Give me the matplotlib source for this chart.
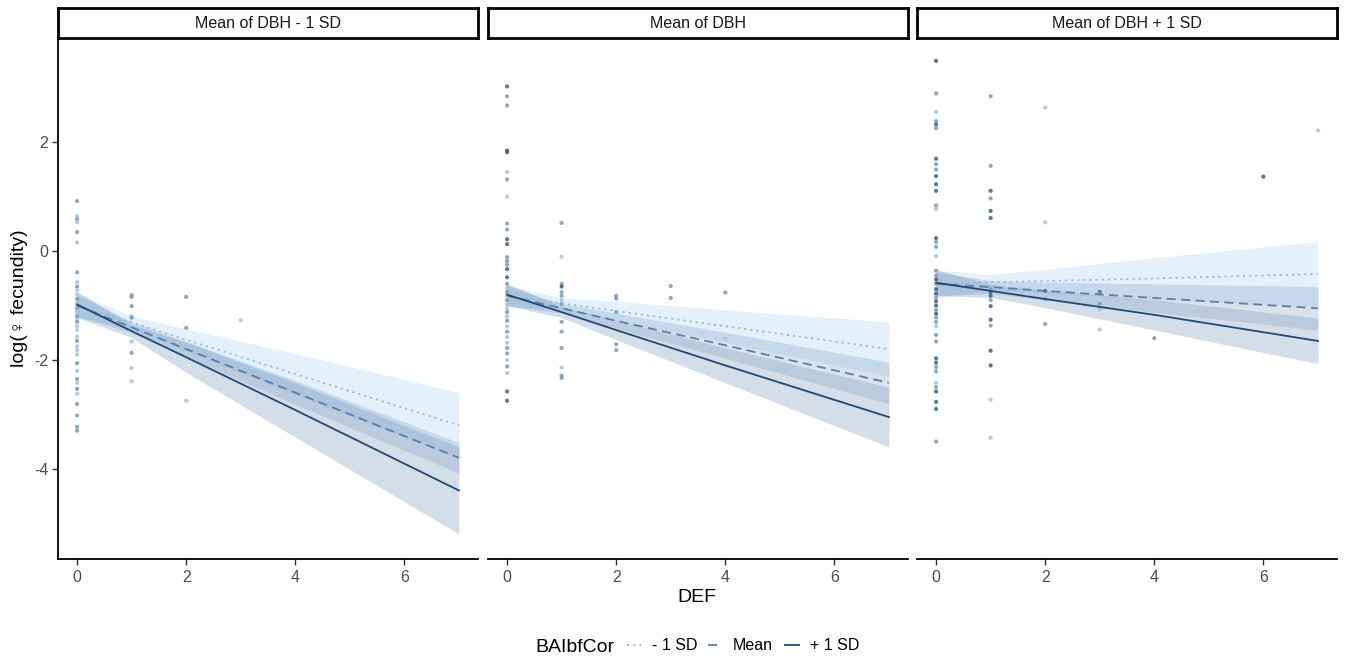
import matplotlib
matplotlib.use("Agg")
import matplotlib.pyplot as plt
import numpy as np
from matplotlib.lines import Line2D

plt.rcParams['font.family'] = ['Liberation Sans', 'DejaVu Sans']

# ---------------- data ----------------
panel_titles = ["Mean of DBH - 1 SD", "Mean of DBH", "Mean of DBH + 1 SD"]
group_labels = ["- 1 SD", "Mean", "+ 1 SD"]
legend_title = "BAIbfCor"
x_label = "DEF"
y_label = "log(\u2640 fecundity)"
x_ticks = [0, 2, 4, 6]
y_ticks = [-4, -2, 0, 2]

# fitted lines evaluated at DEF grid
def_grid = [0, 1, 2, 4, 7]
# per panel, per group: fitted values at def_grid
fit_p1 = [[-1.00, -1.31, -1.63, -2.26, -3.20],
          [-1.00, -1.40, -1.80, -2.60, -3.80],
          [-0.98, -1.47, -1.95, -2.92, -4.40]]
fit_p2 = [[-0.82, -0.96, -1.10, -1.38, -1.80],
          [-0.82, -1.05, -1.28, -1.73, -2.42],
          [-0.80, -1.12, -1.45, -2.10, -3.05]]
fit_p3 = [[-0.60, -0.57, -0.55, -0.50, -0.42],
          [-0.60, -0.66, -0.73, -0.86, -1.05],
          [-0.58, -0.73, -0.88, -1.17, -1.65]]
# CI half widths at def_grid
hw_p1 = [[0.22, 0.12, 0.20, 0.38, 0.60],
         [0.20, 0.10, 0.14, 0.22, 0.28],
         [0.24, 0.12, 0.28, 0.50, 0.80]]
hw_p2 = [[0.20, 0.10, 0.18, 0.30, 0.50],
         [0.18, 0.09, 0.14, 0.24, 0.38],
         [0.20, 0.10, 0.18, 0.32, 0.55]]
hw_p3 = [[0.25, 0.14, 0.22, 0.38, 0.60],
         [0.22, 0.12, 0.16, 0.26, 0.40],
         [0.24, 0.12, 0.16, 0.28, 0.42]]

# observed points
pts_p1_x = [0]*37 + [1]*9 + [2]*3 + [3]
pts_p1_y = [0.92, 0.65, 0.59, 0.53, 0.35, 0.16, -0.39, -0.57, -0.65, -0.72, -0.8, -0.88, -0.95,
            -1.0, -1.05, -1.1, -1.15, -1.2, -1.25, -1.3, -1.38, -1.45, -1.57, -1.65, -1.75, -1.82,
            -1.9, -2.06, -2.2, -2.35, -2.42, -2.53, -2.62, -2.81, -3.02, -3.23, -3.3,
            -0.81, -0.84, -1.01, -1.2, -1.22, -1.66, -1.87, -2.15, -2.39,
            -0.84, -1.41, -2.75,
            -1.27]
pts_p1_g = [1, 0, 1, 0, 1, 0, 1, 0, 1, 0, 0, 1, 0,
            0, 1, 0, 0, 1, 0, 1, 0, 0, 0, 1, 0, 0,
            0, 1, 0, 1, 0, 1, 0, 1, 1, 1, 1,
            1, 1, 1, 0, 1, 0, 1, 0, 0,
            1, 1, 0,
            0]

pts_p2_x = [0]*38 + [1]*14 + [2]*5 + [3]*2 + [4]*2
pts_p2_y = [3.03, 2.85, 2.68, 1.85, 1.82, 1.46, 1.32, 1.0, 0.51, 0.4, 0.22, 0.13, -0.11, -0.18,
            -0.25, -0.33, -0.48, -0.6, -0.68, -0.75, -0.82, -0.9, -0.98, -1.05, -1.12, -1.2, -1.28,
            -1.38, -1.48, -1.58, -1.68, -1.78, -1.88, -2.0, -2.12, -2.24, -2.58, -2.75,
            0.52, -0.1, -0.6, -0.65, -0.75, -0.82, -0.9, -0.97, -1.3, -1.48, -1.78, -2.14, -2.29, -2.33,
            -0.82, -0.87, -1.12, -1.71, -1.82,
            -0.64, -0.86,
            -0.76, -1.61]
pts_p2_g = [2, 1, 1, 2, 2, 0, 1, 0, 1, 1, 2, 2, 1, 1,
            1, 2, 2, 1, 0, 1, 0, 1, 0, 0, 1, 0, 1,
            0, 1, 0, 0, 1, 1, 0, 1, 0, 2, 2,
            1, 0, 1, 2, 1, 1, 0, 1, 1, 1, 1, 0, 1, 1,
            1, 1, 1, 1, 1,
            1, 1,
            1, 0]

pts_p3_x = [0]*44 + [1]*17 + [2]*5 + [3]*6 + [4] + [6] + [7]
pts_p3_y = [3.5, 2.9, 2.56, 2.39, 2.33, 2.26, 1.7, 1.6, 1.5, 1.38, 1.23, 1.11, 0.84, 0.77,
            0.24, 0.17, 0.08, -0.09, -0.36, -0.45, -0.52, -0.6, -0.7, -0.78, -0.85, -0.92, -1.0,
            -1.08, -1.15, -1.22, -1.3, -1.38, -1.54, -1.66, -1.97, -2.05, -2.13, -2.21, -2.42,
            -2.5, -2.58, -2.77, -2.9, -3.5,
            2.85, 1.57, 1.11, 0.97, 0.74, 0.61, -0.7, -0.75, -0.82, -0.9, -1.01, -1.26, -1.37,
            -1.83, -2.1, -2.73, -3.43,
            2.64, 0.53, -0.73, -0.88, -1.34,
            -0.75, -0.78, -0.97, -1.02, -1.07, -1.44,
            -1.6,
            1.37,
            2.22]
pts_p3_g = [2, 1, 0, 1, 2, 1, 2, 1, 1, 2, 2, 2, 1, 0,
            2, 1, 1, 0, 1, 1, 2, 1, 2, 2, 1, 2, 2,
            1, 2, 1, 1, 0, 1, 1, 2, 2, 1, 1, 0,
            1, 2, 2, 2, 1,
            1, 1, 2, 1, 2, 2, 1, 2, 2, 1, 2, 2, 1,
            2, 2, 0, 0,
            0, 0, 2, 1, 1,
            2, 1, 1, 0, 0, 0,
            1,
            2,
            0]

# ---------------- styling ----------------
line_colors = ['#93b9dc', '#5b7fa6', '#1f4a78']
line_styles = [(0, (1.2, 2.2)), (0, (5, 3)), '-']
fill_colors = ['#acd4f5', '#7fa3c9', '#7394b6']
fill_alpha = [0.32, 0.30, 0.30]
point_colors = ['#a3c3e0', '#7d98b4', '#42607f']

W, H = 1345, 660
fig = plt.figure(figsize=(W/100, H/100), dpi=100)

def fx(px):
    return px / W

def fy(py):
    return 1 - py / H

panel_lefts = [58, 488, 917]
panel_w = 420
top_px, bottom_px = 38, 559
strip_top = 8

fits = [fit_p1, fit_p2, fit_p3]
hws = [hw_p1, hw_p2, hw_p3]
pts = [(pts_p1_x, pts_p1_y, pts_p1_g), (pts_p2_x, pts_p2_y, pts_p2_g), (pts_p3_x, pts_p3_y, pts_p3_g)]

xlim = (-0.35, 7.35)
ylim = (-5.66, 3.92)

for i in range(3):
    l = panel_lefts[i]
    ax = fig.add_axes([fx(l), fy(bottom_px), panel_w / W, (bottom_px - top_px) / H])
    px_, py_, pg_ = pts[i]
    cols = [point_colors[g] for g in pg_]
    ax.scatter(px_, py_, s=9, c=cols, alpha=0.85, linewidths=0, zorder=2)
    for g in range(3):
        f = np.array(fits[i][g])
        h = np.array(hws[i][g])
        ax.fill_between(def_grid, f - h, f + h, color=fill_colors[g], alpha=fill_alpha[g],
                        linewidth=0, zorder=1)
    for g in range(3):
        ax.plot(def_grid, fits[i][g], color=line_colors[g], linestyle=line_styles[g],
                linewidth=1.3, zorder=3)
    ax.set_xlim(*xlim)
    ax.set_ylim(*ylim)
    ax.set_xticks(x_ticks)
    ax.set_xticklabels([str(t) for t in x_ticks])
    ax.spines['top'].set_visible(False)
    ax.spines['right'].set_visible(False)
    ax.spines['bottom'].set_linewidth(1.3)
    ax.tick_params(axis='x', length=4, width=1, color='#333333', labelsize=11.5,
                   labelcolor='#4d4d4d', pad=4)
    if i == 0:
        ax.set_yticks(y_ticks)
        ax.set_yticklabels([str(t) for t in y_ticks])
        ax.spines['left'].set_linewidth(1.3)
        ax.tick_params(axis='y', length=4, width=1, color='#333333', labelsize=11.5,
                       labelcolor='#4d4d4d', pad=3)
    else:
        ax.spines['left'].set_visible(False)
        ax.set_yticks([])
    ax.set_facecolor('white')

    # strip
    sax = fig.add_axes([fx(l), fy(top_px), panel_w / W, (top_px - strip_top) / H])
    sax.set_xticks([])
    sax.set_yticks([])
    for sp in sax.spines.values():
        sp.set_linewidth(2.0)
        sp.set_color('black')
    sax.text(0.5, 0.5, panel_titles[i], ha='center', va='center', fontsize=11.5,
             color='#1a1a1a', transform=sax.transAxes)

# axis titles
fig.text(fx(697), fy(597), x_label, ha='center', va='center', fontsize=14, color='black')
fig.text(fx(20), fy(298), y_label, ha='center', va='center', rotation=90, fontsize=14,
         color='black')

# legend
fig.text(fx(535), fy(647), legend_title, ha='left', va='center', fontsize=14, color='black')
key_x = [(627, 641), (708, 722), (785, 799)]
lab_x = [652, 733, 810]
for g in range(3):
    x0, x1 = key_x[g]
    fig.add_artist(Line2D([fx(x0), fx(x1)], [fy(645), fy(645)], color=line_colors[g],
                          linestyle=line_styles[g], linewidth=1.3, transform=fig.transFigure))
    fig.text(fx(lab_x[g]), fy(645), group_labels[g], ha='left', va='center', fontsize=11.5,
             color='black')

fig.savefig("out.png", dpi=100, facecolor='white')
